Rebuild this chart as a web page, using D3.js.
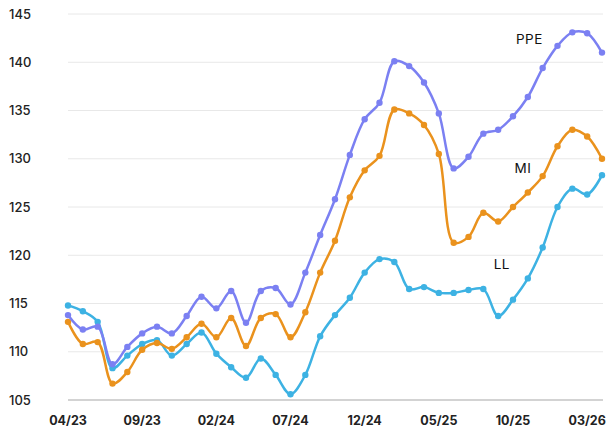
<!DOCTYPE html>
<html>
<head>
<meta charset="utf-8">
<script src="https://cdn.jsdelivr.net/npm/d3@7"></script>
<style>
  body { margin: 0; background: #fff; }
  text { font-family: Inter, "Noto Sans", sans-serif; }
</style>
</head>
<body>
<div id="graph"></div>
<script>
// monthly points, 04/23 .. 04/26
var months = ["04/23","05/23","06/23","07/23","08/23","09/23","10/23","11/23","12/23",
  "01/24","02/24","03/24","04/24","05/24","06/24","07/24","08/24","09/24","10/24","11/24","12/24",
  "01/25","02/25","03/25","04/25","05/25","06/25","07/25","08/25","09/25","10/25","11/25","12/25",
  "01/26","02/26","03/26","04/26"];

var ppe = [113.8,112.3,112.6,108.7,110.5,111.9,112.6,111.9,113.7,115.7,114.5,116.3,113.0,116.3,116.6,114.9,
  118.2,122.1,125.8,130.4,134.1,135.8,140.1,139.6,137.9,134.7,129.0,130.2,132.6,133.0,134.4,136.4,139.4,
  141.7,143.1,143.0,141.0];
var mi = [113.1,110.8,111.0,106.7,107.9,110.2,110.9,110.3,111.5,112.9,111.5,113.5,110.6,113.5,113.9,111.5,
  114.1,118.2,121.5,126.0,128.8,130.3,135.1,134.7,133.5,130.5,121.3,121.9,124.4,123.5,125.0,126.5,128.2,
  131.3,133.0,132.3,130.0];
var ll = [114.8,114.2,113.1,108.3,109.6,110.8,111.2,109.6,110.8,112.0,109.8,108.4,107.3,109.3,107.6,105.6,
  107.6,111.6,113.8,115.6,118.2,119.6,119.3,116.5,116.7,116.1,116.1,116.4,116.5,113.7,115.4,117.6,120.8,
  125.0,126.9,126.3,128.3];

var yTicks = [105,110,115,120,125,130,135,140,145];
var xTickLabels = ["04/23","09/23","02/24","07/24","12/24","05/25","10/25","03/26"];

// series names and where their labels sit (month index, value)
var names = ["LL", "MI", "PPE"];
var colors = ["#3db2e3", "#ea921d", "#7b80f2"];
var labelIdx = [28.7, 30.1, 30.2];
var labelVal = [118.6, 128.5, 141.9];
var seriesValues = [ll, mi, ppe];

var svgWidth = 610, svgHeight = 433;
var svg = d3.select("#graph").append("svg")
    .attr("width", svgWidth)
    .attr("height", svgHeight);

var x = d3.scalePoint().domain(months).range([68, 602]);
var xi = d3.scaleLinear().domain([0, months.length - 1]).range([68, 602]);
var y = d3.scaleLinear().domain([105, 145]).range([400, 14]);

// grid
svg.append("g")
  .selectAll("line")
  .data(yTicks)
  .enter().append("line")
    .attr("x1", 68)
    .attr("x2", 603)
    .attr("y1", function(d) { return y(d); })
    .attr("y2", function(d) { return y(d); })
    .attr("stroke", function(d) { return d === 105 ? "#c4c4c4" : "#e8e8e8"; })
    .attr("stroke-width", function(d) { return d === 105 ? 1.5 : 1; });

// y labels
svg.append("g")
  .selectAll("text")
  .data(yTicks)
  .enter().append("text")
    .attr("x", 9)
    .attr("y", function(d) { return y(d); })
    .attr("dy", "0.35em")
    .attr("font-size", 13)
    .attr("font-weight", 500)
    .attr("fill", "#222")
    .text(function(d) { return d; });

// x labels
svg.append("g")
  .selectAll("text")
  .data(xTickLabels)
  .enter().append("text")
    .attr("x", function(d) { return x(d); })
    .attr("y", 425)
    .attr("text-anchor", "middle")
    .attr("font-size", 12.5)
    .attr("font-weight", 700)
    .attr("fill", "#222")
    .text(function(d) { return d; });

var line = d3.line()
    .x(function(d, i) { return x(months[i]); })
    .y(function(d) { return y(d); })
    .curve(d3.curveCatmullRom.alpha(0.5));

seriesValues.forEach(function(vals, k) {
  var g = svg.append("g");
  g.append("path")
    .datum(vals)
    .attr("fill", "none")
    .attr("stroke", colors[k])
    .attr("stroke-width", 2.5)
    .attr("stroke-linejoin", "round")
    .attr("stroke-linecap", "round")
    .attr("d", line);
  g.selectAll("circle")
    .data(vals)
    .enter().append("circle")
      .attr("cx", function(d, i) { return x(months[i]); })
      .attr("cy", function(d) { return y(d); })
      .attr("r", 3.2)
      .attr("fill", colors[k]);
  g.append("text")
    .attr("x", xi(labelIdx[k]))
    .attr("y", y(labelVal[k]))
    .attr("font-size", 13.5)
    .attr("letter-spacing", 0.5)
    .attr("fill", "#111")
    .text(names[k]);
});
</script>
</body>
</html>
